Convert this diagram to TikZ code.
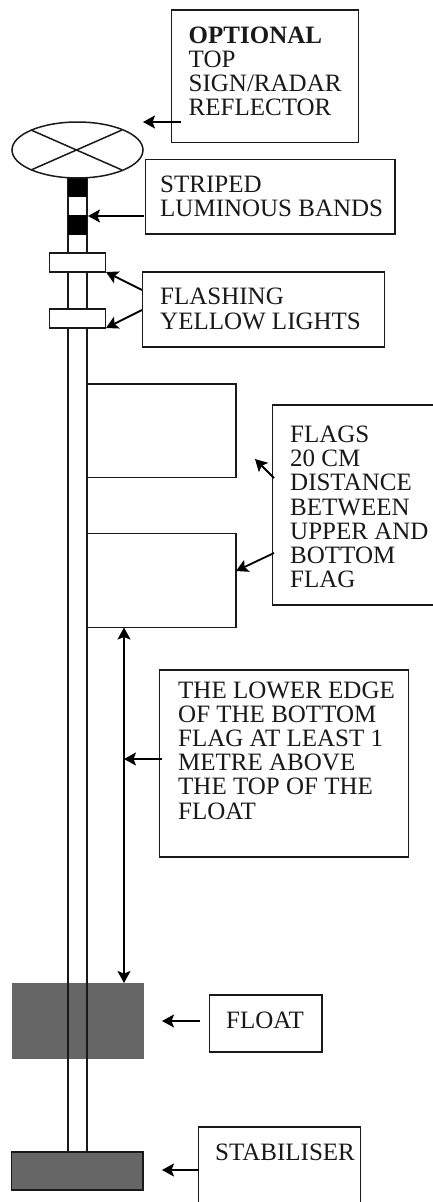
\documentclass[tikz,border=0pt]{standalone}
\usepackage{fontspec}
\setmainfont{Liberation Serif}
\usetikzlibrary{arrows.meta,shapes.geometric}
\definecolor{floatgrey}{HTML}{666666}
\definecolor{inkblack}{HTML}{1A1A1A}
\tikzset{
  x=1pt,y=-1pt,
  frame/.style={draw=inkblack,line width=1.5pt,fill=white,inner sep=0pt,outer sep=0pt,anchor=north west},
  lbl/.style={inner sep=0pt,anchor=base west,font=\fontsize{25}{24.2}\selectfont,align=left,text=black!90},
  pole/.style={draw=inkblack,line width=1.5pt},
  pointer/.style={draw=black,line width=1.8pt,-{Stealth[length=12pt,width=13pt,inset=2.5pt]}},
  both pointer/.style={draw=black,line width=1.8pt,{Stealth[length=12pt,width=13pt,inset=2.5pt]}-{Stealth[length=12pt,width=13pt,inset=2.5pt]}},
}
\newcommand{\framebx}[5]{\node[frame,minimum width=#4pt,minimum height=#5pt] (#1) at (#2,#3) {};}
\begin{document}
\begin{tikzpicture}
\useasboundingbox (0,0) rectangle (432,1202);
% float and stabiliser
\node[fill=floatgrey,inner sep=0pt,outer sep=0pt,anchor=north west,minimum width=132pt,minimum height=76.5pt] (float) at (11.5,982.5) {};
\node[fill=floatgrey,draw=inkblack,line width=1.5pt,inner sep=0pt,outer sep=0pt,anchor=north west,minimum width=131.5pt,minimum height=38pt] (stab) at (11.7,1152) {};
% pole
\coordinate (poleLT) at (68,178);
\coordinate (poleRT) at (87,178);
\coordinate (poleLB) at (68,1152);
\coordinate (poleRB) at (87,1152);
\draw[pole] (poleLT) -- (poleLB);
\draw[pole] (poleRT) -- (poleRB);
% bands
\node[fill=black,inner sep=0pt,outer sep=0pt,anchor=north west,minimum width=19pt,minimum height=19pt] (band1) at (68,178) {};
\node[fill=black,inner sep=0pt,outer sep=0pt,anchor=north west,minimum width=19pt,minimum height=20pt] (band2) at (68,215) {};
% reflector
\node[draw=inkblack,line width=1.5pt,fill=white,ellipse,inner sep=0pt,outer sep=0pt,minimum width=131pt,minimum height=56pt] (refl) at (77.5,150) {};
\coordinate (c1) at (31,130); \coordinate (c2) at (122,170);
\coordinate (c3) at (122,130); \coordinate (c4) at (31,170);
\draw[pole] (c1) -- (c2);
\draw[pole] (c3) -- (c4);
% lights
\framebx{light1}{49.5}{253}{56}{19}
\framebx{light2}{49.5}{309}{56}{19}
% flags
\framebx{flag1}{87}{384}{149}{93.7}
\framebx{flag2}{87}{533.7}{149}{93.6}
% text frames
\framebx{bOpt}{171.5}{10}{187}{132.5}
\framebx{bStr}{145.5}{159.5}{249.5}{74.5}
\framebx{bFla}{142.5}{272}{242}{75}
\framebx{bFlg}{272.5}{405}{165}{200}
\framebx{bLow}{159.5}{670}{249}{187}
\framebx{bFlo}{209.5}{995}{112.5}{57}
\framebx{bSta}{198.5}{1127}{162}{80}
% text
\node[lbl] (tOpt) at (188.5,115.7) {\textbf{OPTIONAL}\\TOP\\SIGN/RADAR\\REFLECTOR};
\node[lbl] (tStr) at (160,216.5) {STRIPED\\LUMINOUS BANDS};
\node[lbl] (tFla) at (160,329) {FLASHING\\YELLOW LIGHTS};
\node[lbl] (tFlg) at (290,587.7) {FLAGS\\20 CM\\DISTANCE\\BETWEEN\\UPPER AND\\BOTTOM\\FLAG};
\node[lbl] (tLow) at (178,819) {THE LOWER EDGE\\OF THE BOTTOM\\FLAG AT LEAST 1\\METRE ABOVE\\THE TOP OF THE\\FLOAT};
\node[lbl] (tFlo) at (226,1028) {FLOAT};
\node[lbl] (tSta) at (215,1160) {STABILISER};
% connectors
\coordinate (a1s) at (181,122); \coordinate (a1e) at (143,122);
\draw[pointer] (a1s) -- (a1e);
\coordinate (a2s) at (144,216); \coordinate (a2e) at (88,216);
\draw[pointer] (a2s) -- (a2e);
\coordinate (a3s) at (142,290); \coordinate (a3e) at (106,272);
\draw[pointer] (a3s) -- (a3e);
\coordinate (a4s) at (142,310); \coordinate (a4e) at (106,328);
\draw[pointer] (a4s) -- (a4e);
\coordinate (a5s) at (274,478); \coordinate (a5e) at (255,459);
\draw[pointer] (a5s) -- (a5e);
\coordinate (a6s) at (274,553); \coordinate (a6e) at (236,571);
\draw[pointer] (a6s) -- (a6e);
\coordinate (a7s) at (124,627.5); \coordinate (a7e) at (124,983);
\draw[both pointer] (a7s) -- (a7e);
\coordinate (a8s) at (162,759); \coordinate (a8e) at (124,759);
\draw[pointer] (a8s) -- (a8e);
\coordinate (a9s) at (200,1021); \coordinate (a9e) at (162,1021);
\draw[pointer] (a9s) -- (a9e);
\coordinate (a10s) at (199,1170); \coordinate (a10e) at (162,1170);
\draw[pointer] (a10s) -- (a10e);
\end{tikzpicture}
\end{document}
